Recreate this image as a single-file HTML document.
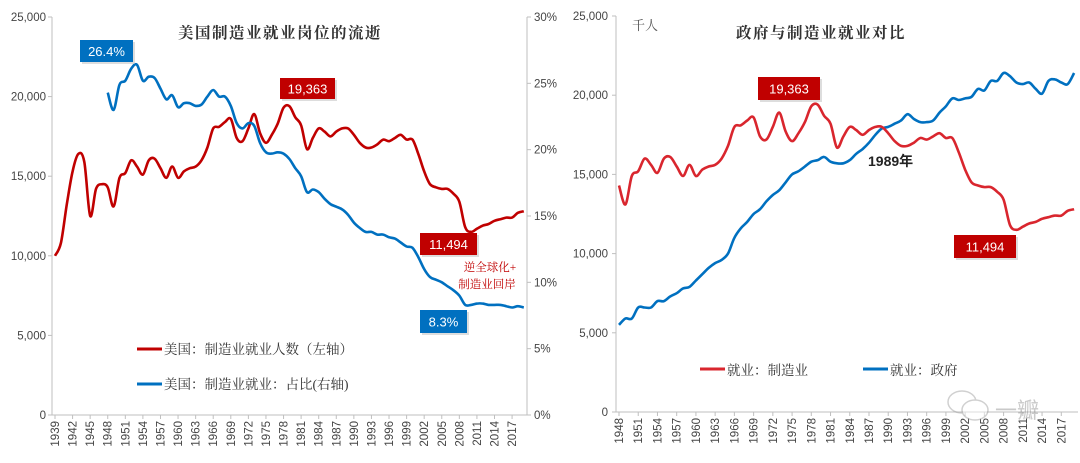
<!DOCTYPE html>
<html><head><meta charset="utf-8">
<style>
html,body{margin:0;padding:0;background:#fff;}
body{width:1080px;height:458px;overflow:hidden;font-family:"Liberation Sans","Noto Sans CJK SC",sans-serif;}
svg text{font-family:"Liberation Sans","Noto Sans CJK SC",sans-serif;}
.ser{font-family:"Liberation Serif","Noto Serif CJK SC",serif;}
</style></head>
<body>
<svg id="c" width="1080" height="458"></svg>
<script>
const mfgYears1 = []; for (let y=1939;y<=2019;y++) mfgYears1.push(y);
const mfgEmp = [10.0,10.8,13.2,15.3,16.4,15.9,12.5,14.2,14.5,14.3,13.1,14.9,15.2,16.0,15.6,15.1,16.0,16.1,15.5,14.9,15.6,14.9,15.3,15.5,15.6,16.0,16.8,18.0,18.1,18.4,18.6,17.4,17.2,18.0,18.9,17.7,17.1,17.6,18.3,19.3,19.4,18.7,18.2,16.7,17.4,18.0,17.8,17.5,17.8,18.0,18.0,17.6,17.1,16.8,16.8,17.0,17.3,17.2,17.4,17.6,17.3,17.3,16.4,15.3,14.5,14.3,14.2,14.2,13.9,13.4,11.8,11.5,11.7,11.9,12.0,12.2,12.3,12.4,12.4,12.7,12.8];
const shareYears = []; for (let y=1948;y<=2019;y++) shareYears.push(y);
const mfgShare = [24.3,23.0,24.9,25.2,26.1,26.4,25.2,25.5,25.4,24.6,23.8,24.1,23.2,23.5,23.5,23.3,23.4,24.0,24.5,24.0,24.0,23.3,22.0,21.6,22.0,21.8,20.5,19.8,19.7,19.8,19.7,19.3,18.6,18.0,16.8,17.0,16.8,16.3,15.9,15.7,15.5,15.1,14.5,14.1,13.8,13.8,13.6,13.6,13.4,13.3,13.0,12.7,12.6,11.9,11.0,10.4,10.2,10.0,9.7,9.4,9.0,8.3,8.3,8.4,8.4,8.3,8.3,8.3,8.2,8.1,8.2,8.1];
const govEmp = [5.5,5.9,5.9,6.6,6.6,6.6,7.0,7.0,7.3,7.5,7.8,7.9,8.3,8.7,9.1,9.4,9.6,10.0,11.0,11.6,12.0,12.5,12.8,13.3,13.7,14.0,14.5,15.0,15.2,15.5,15.8,15.9,16.1,15.8,15.7,15.7,15.9,16.3,16.6,17.0,17.5,17.9,18.0,18.2,18.4,18.8,18.5,18.3,18.3,18.4,18.9,19.3,19.8,19.7,19.8,19.9,20.4,20.3,20.9,20.9,21.4,21.2,20.8,20.7,20.8,20.4,20.1,20.9,21.0,20.8,20.7,21.4];
const leftTicks = ["0","5,000","10,000","15,000","20,000","25,000"];
const rightTicks = ["0%","5%","10%","15%","20%","25%","30%"];

const NS="http://www.w3.org/2000/svg", svg=document.getElementById('c');
function el(t,a,p){const e=document.createElementNS(NS,t);for(const k in a)e.setAttribute(k,a[k]);(p||svg).appendChild(e);return e;}
function txt(s,a,p){const e=el('text',a,p);e.textContent=s;return e;}
function smooth(pts){let d='M'+pts[0][0]+','+pts[0][1];for(let i=0;i<pts.length-1;i++){const p0=pts[Math.max(0,i-1)],p1=pts[i],p2=pts[i+1],p3=pts[Math.min(pts.length-1,i+2)];const c1x=p1[0]+(p2[0]-p0[0])/6,c1y=p1[1]+(p2[1]-p0[1])/6,c2x=p2[0]-(p3[0]-p1[0])/6,c2y=p2[1]-(p3[1]-p1[1])/6;d+=`C${c1x.toFixed(1)},${c1y.toFixed(1)} ${c2x.toFixed(1)},${c2y.toFixed(1)} ${p2[0].toFixed(1)},${p2[1].toFixed(1)}`;}return d;}
function box(x,y,w,h,fill,label,name){const g=el('g',{});  
 el('rect',{x:x+2,y:y+2,width:w,height:h,fill:'#bbb',opacity:0.5},g);el('rect',{x,y,width:w,height:h,fill},g);
 txt(label,{x:x+w/2,y:y+h/2+5,'text-anchor':'middle','font-size':13,fill:'#fff'},g);}

// ---- LEFT CHART ----
const L={x0:52,x1:527,y0:415,y1:17};
const lx=y=>55+(y-1939)*5.86, ly=v=>L.y0-(v/25)*(L.y0-L.y1), ry=p=>L.y0-(p/30)*(L.y0-L.y1);
let g=el('g',{});  
el('line',{x1:L.x0,y1:L.y1,x2:L.x0,y2:L.y0,stroke:'#bfbfbf'},g);
leftTicks.forEach((t,i)=>{const y=ly(i*5);el('line',{x1:L.x0-4,y1:y,x2:L.x0,y2:y,stroke:'#bfbfbf'},g);txt(t,{x:L.x0-6,y:y+4,'text-anchor':'end','font-size':11.5,fill:'#444'},g);});
g=el('g',{});  
el('line',{x1:L.x1,y1:L.y1,x2:L.x1,y2:L.y0,stroke:'#bfbfbf'},g);
rightTicks.forEach((t,i)=>{const y=ry(i*5);el('line',{x1:L.x1,y1:y,x2:L.x1+4,y2:y,stroke:'#bfbfbf'},g);txt(t,{x:L.x1+7,y:y+4,'font-size':11.5,fill:'#444'},g);});
g=el('g',{});  
el('line',{x1:L.x0,y1:L.y0,x2:L.x1,y2:L.y0,stroke:'#bfbfbf'},g);
mfgYears1.forEach(y=>{if((y-1939)%3===0){const x=lx(y);el('line',{x1:x,y1:L.y0,x2:x,y2:L.y0+4,stroke:'#bfbfbf'},g);txt(String(y),{x:0,y:0,transform:`translate(${x+4},${L.y0+6}) rotate(-90)`,'text-anchor':'end','font-size':11.5,fill:'#444'},g);}});
let p=el('path',{d:smooth(mfgYears1.map((y,i)=>[lx(y),ly(mfgEmp[i])])),fill:'none',stroke:'#c00000','stroke-width':2.6});
 
p=el('path',{d:smooth(shareYears.map((y,i)=>[lx(y),ry(mfgShare[i])])),fill:'none',stroke:'#0070c0','stroke-width':2.6});
 
let t=txt('美国制造业就业岗位的流逝',{x:280,y:38,'text-anchor':'middle','font-size':15.5,'font-weight':'bold',fill:'#333',class:'ser','letter-spacing':1.5});
 
box(80,40,53,22,'#0070c0','26.4%','callout-share-peak');
box(280,78,55,21,'#c00000','19,363','callout-emp-peak');
box(420,233,57,22,'#c00000','11,494','callout-emp-low');
box(420,310,47,23,'#0070c0','8.3%','callout-share-low');
g=el('g',{});  
txt('逆全球化+',{x:490,y:271,'text-anchor':'middle','font-size':11.5,fill:'#c00000',class:'ser'},g);
txt('制造业回岸',{x:487,y:288,'text-anchor':'middle','font-size':11.5,fill:'#c00000',class:'ser'},g);
g=el('g',{});  
el('line',{x1:137,y1:349,x2:162,y2:349,stroke:'#c00000','stroke-width':3},g);
txt('美国：制造业就业人数（左轴）',{x:164,y:354,'font-size':13.5,fill:'#333',class:'ser'},g);
g=el('g',{});  
el('line',{x1:137,y1:384,x2:162,y2:384,stroke:'#0070c0','stroke-width':3},g);
txt('美国：制造业就业：占比(右轴)',{x:164,y:389,'font-size':13.5,fill:'#333',class:'ser'},g);

// ---- RIGHT CHART ----
const R={x0:616,x1:1078,y0:412,y1:16};
const gx=y=>619+(y-1948)*6.41, gy=v=>R.y0-(v/25)*(R.y0-R.y1);
g=el('g',{});  
el('line',{x1:R.x0,y1:R.y1,x2:R.x0,y2:R.y0,stroke:'#bfbfbf'},g);
leftTicks.forEach((tk,i)=>{const y=gy(i*5);el('line',{x1:R.x0-4,y1:y,x2:R.x0,y2:y,stroke:'#bfbfbf'},g);txt(tk,{x:R.x0-8,y:y+4,'text-anchor':'end','font-size':11.5,fill:'#444'},g);});
g=el('g',{});  
el('line',{x1:R.x0,y1:R.y0,x2:R.x1,y2:R.y0,stroke:'#bfbfbf'},g);
shareYears.forEach(y=>{if((y-1948)%3===0){const x=gx(y);el('line',{x1:x,y1:R.y0,x2:x,y2:R.y0+4,stroke:'#bfbfbf'},g);txt(String(y),{x:0,y:0,transform:`translate(${x+4},${R.y0+6}) rotate(-90)`,'text-anchor':'end','font-size':11.5,fill:'#444'},g);}});
const mfg2=mfgEmp.slice(1948-1939);
p=el('path',{d:smooth(shareYears.map((y,i)=>[gx(y),gy(govEmp[i])])),fill:'none',stroke:'#0070c0','stroke-width':2.6});
 
p=el('path',{d:smooth(shareYears.map((y,i)=>[gx(y),gy(mfg2[i])])),fill:'none',stroke:'#d9262e','stroke-width':2.6});
 
t=txt('千人',{x:632,y:30,'font-size':13,fill:'#555',class:'ser'});  
t=txt('政府与制造业就业对比',{x:821,y:38,'text-anchor':'middle','font-size':15.5,'font-weight':'bold',fill:'#333',class:'ser','letter-spacing':1.5});
 
box(758,77,62,23,'#c00000','19,363','callout-right-peak');
box(954,235,62,23,'#c00000','11,494','callout-right-low');
t=txt('1989年',{x:868,y:166,'font-size':14,'font-weight':'bold',fill:'#222'});  
g=el('g',{});  
el('line',{x1:700,y1:369,x2:725,y2:369,stroke:'#d9262e','stroke-width':3},g);
txt('就业：制造业',{x:727,y:375,'font-size':13.5,fill:'#333',class:'ser'},g);
g=el('g',{});  
el('line',{x1:863,y1:369,x2:888,y2:369,stroke:'#0070c0','stroke-width':3},g);
txt('就业：政府',{x:890,y:375,'font-size':13.5,fill:'#333',class:'ser'},g);
g=el('g',{opacity:0.45});  
el('ellipse',{cx:962,cy:402,rx:14,ry:11,fill:'none',stroke:'#999','stroke-width':1.5},g);
el('ellipse',{cx:975,cy:410,rx:13,ry:10,fill:'#fff',stroke:'#999','stroke-width':1.5},g);
txt('一瓣',{x:995,y:418,'font-size':22,fill:'#888'},g);
</script>
</body></html>
